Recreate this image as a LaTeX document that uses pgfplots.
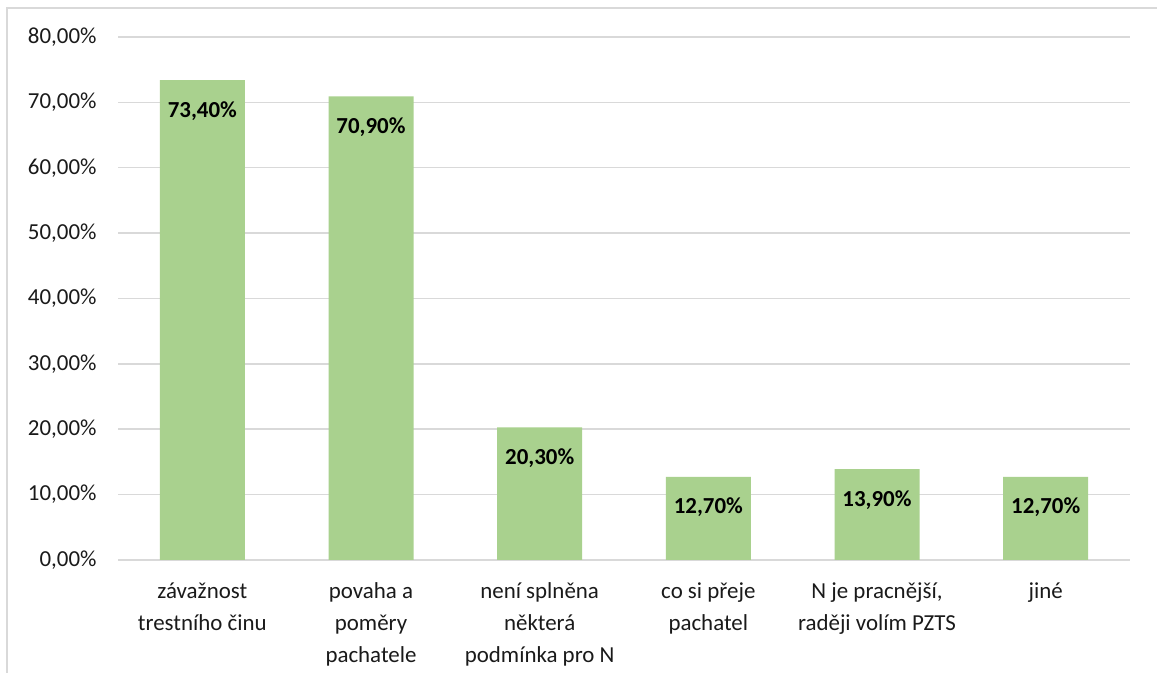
\documentclass[border=0pt]{standalone}
\usepackage{pgfplots}
\pgfplotsset{compat=1.18}
\usepackage{fontspec}
\setmainfont{Carlito}
\definecolor{bargreen}{HTML}{A9D18E}
\definecolor{gridgray}{HTML}{D9D9D9}
\definecolor{txt}{HTML}{1A1A1A}
\definecolor{frame}{HTML}{D9D9D9}
\begin{document}
\begin{tikzpicture}[x=1bp,y=1bp]
\path[use as bounding box] (0,0) rectangle (1157,673);
\fill[white] (0,0) rectangle (1157,673);
\draw[frame,line width=1.5bp] (7,0) -- (7,665) -- (1157,665);
\begin{axis}[
  at={(118bp,113bp)}, anchor=south west,
  width=1012bp, height=523bp, scale only axis,
  xmin=-0.5, xmax=5.5, ymin=0, ymax=80,
  ybar, bar width=85bp,
  axis line style={draw=none},
  axis x line*=bottom,
  ytick={0,10,...,80},
  yticklabels={{0,00\%},{10,00\%},{20,00\%},{30,00\%},{40,00\%},{50,00\%},{60,00\%},{70,00\%},{80,00\%}},
  ymajorgrids, grid style={gridgray,line width=1.5bp},
  xtick={0,...,5},
  xticklabels={{závažnost\\trestního činu},{povaha a\\poměry\\pachatele},{není splněna\\některá\\podmínka pro N},{co si přeje\\pachatel},{N je pracnější,\\raději volím PZTS},{jiné}},
  x tick label style={align=center, font=\fontsize{23}{32}\selectfont, text=txt, yshift=-19bp},
  y tick label style={font=\fontsize{23}{26}\selectfont, text=txt, xshift=-18bp},
  major tick length=0pt,
  clip=false,
  /pgf/number format/assume math mode=true,
  nodes near coords={\pgfmathprintnumber[fixed,fixed zerofill,precision=2,use comma,assume math mode=true]{\pgfplotspointmeta}\%},
  every node near coord/.append style={anchor=base, yshift=-37bp, font=\fontsize{23}{26}\selectfont\bfseries, text=black},
]
\draw[gridgray,line width=1.5bp] (axis cs:-0.5,0) -- (axis cs:5.5,0);
\addplot[fill=bargreen, draw=none] coordinates {(0,73.4) (1,70.9) (2,20.3) (3,12.7) (4,13.9) (5,12.7)};
\end{axis}
\end{tikzpicture}
\end{document}
